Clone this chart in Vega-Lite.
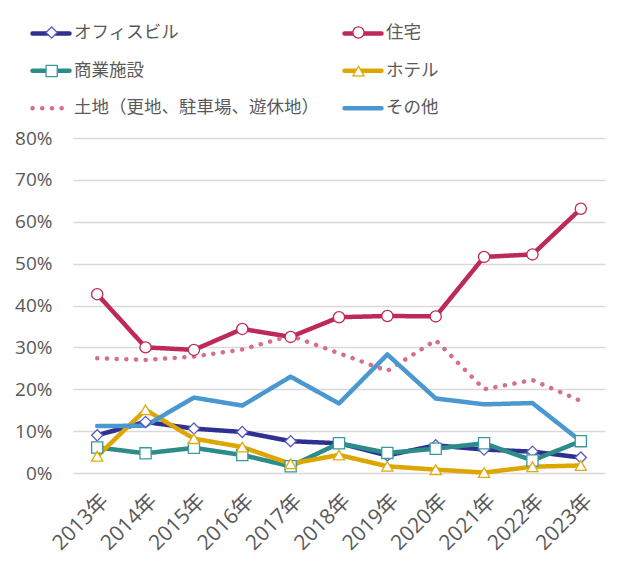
{
  "$schema": "https://vega.github.io/schema/vega-lite/v6.json",
  "width": 532,
  "height": 335,
  "autosize": {"type": "none"},
  "padding": {"left": 73, "top": 138, "right": 29, "bottom": 92},
  "background": "white",
  "config": {
    "view": {"stroke": null},
    "axis": {"labelFont": "Open Sans, Noto Sans CJK JP", "labelColor": "#595959", "labelFontSize": 19, "domain": false, "ticks": false, "title": null}
  },
  "data": {"values": [
    {"year": "2013年", "series": "オフィスビル", "value": 0.090},
    {"year": "2014年", "series": "オフィスビル", "value": 0.122},
    {"year": "2015年", "series": "オフィスビル", "value": 0.106},
    {"year": "2016年", "series": "オフィスビル", "value": 0.098},
    {"year": "2017年", "series": "オフィスビル", "value": 0.076},
    {"year": "2018年", "series": "オフィスビル", "value": 0.071},
    {"year": "2019年", "series": "オフィスビル", "value": 0.042},
    {"year": "2020年", "series": "オフィスビル", "value": 0.066},
    {"year": "2021年", "series": "オフィスビル", "value": 0.056},
    {"year": "2022年", "series": "オフィスビル", "value": 0.051},
    {"year": "2023年", "series": "オフィスビル", "value": 0.037},
    {"year": "2013年", "series": "住宅", "value": 0.427},
    {"year": "2014年", "series": "住宅", "value": 0.300},
    {"year": "2015年", "series": "住宅", "value": 0.294},
    {"year": "2016年", "series": "住宅", "value": 0.344},
    {"year": "2017年", "series": "住宅", "value": 0.325},
    {"year": "2018年", "series": "住宅", "value": 0.372},
    {"year": "2019年", "series": "住宅", "value": 0.375},
    {"year": "2020年", "series": "住宅", "value": 0.374},
    {"year": "2021年", "series": "住宅", "value": 0.516},
    {"year": "2022年", "series": "住宅", "value": 0.522},
    {"year": "2023年", "series": "住宅", "value": 0.631},
    {"year": "2013年", "series": "商業施設", "value": 0.061},
    {"year": "2014年", "series": "商業施設", "value": 0.047},
    {"year": "2015年", "series": "商業施設", "value": 0.060},
    {"year": "2016年", "series": "商業施設", "value": 0.043},
    {"year": "2017年", "series": "商業施設", "value": 0.016},
    {"year": "2018年", "series": "商業施設", "value": 0.071},
    {"year": "2019年", "series": "商業施設", "value": 0.048},
    {"year": "2020年", "series": "商業施設", "value": 0.058},
    {"year": "2021年", "series": "商業施設", "value": 0.071},
    {"year": "2022年", "series": "商業施設", "value": 0.030},
    {"year": "2023年", "series": "商業施設", "value": 0.076},
    {"year": "2013年", "series": "ホテル", "value": 0.040},
    {"year": "2014年", "series": "ホテル", "value": 0.151},
    {"year": "2015年", "series": "ホテル", "value": 0.082},
    {"year": "2016年", "series": "ホテル", "value": 0.062},
    {"year": "2017年", "series": "ホテル", "value": 0.022},
    {"year": "2018年", "series": "ホテル", "value": 0.043},
    {"year": "2019年", "series": "ホテル", "value": 0.016},
    {"year": "2020年", "series": "ホテル", "value": 0.008},
    {"year": "2021年", "series": "ホテル", "value": 0.001},
    {"year": "2022年", "series": "ホテル", "value": 0.015},
    {"year": "2023年", "series": "ホテル", "value": 0.018},
    {"year": "2013年", "series": "土地（更地、駐車場、遊休地）", "value": 0.274},
    {"year": "2014年", "series": "土地（更地、駐車場、遊休地）", "value": 0.270},
    {"year": "2015年", "series": "土地（更地、駐車場、遊休地）", "value": 0.278},
    {"year": "2016年", "series": "土地（更地、駐車場、遊休地）", "value": 0.295},
    {"year": "2017年", "series": "土地（更地、駐車場、遊休地）", "value": 0.328},
    {"year": "2018年", "series": "土地（更地、駐車場、遊休地）", "value": 0.286},
    {"year": "2019年", "series": "土地（更地、駐車場、遊休地）", "value": 0.244},
    {"year": "2020年", "series": "土地（更地、駐車場、遊休地）", "value": 0.317},
    {"year": "2021年", "series": "土地（更地、駐車場、遊休地）", "value": 0.200},
    {"year": "2022年", "series": "土地（更地、駐車場、遊休地）", "value": 0.222},
    {"year": "2023年", "series": "土地（更地、駐車場、遊休地）", "value": 0.172},
    {"year": "2013年", "series": "その他", "value": 0.112},
    {"year": "2014年", "series": "その他", "value": 0.113},
    {"year": "2015年", "series": "その他", "value": 0.180},
    {"year": "2016年", "series": "その他", "value": 0.161},
    {"year": "2017年", "series": "その他", "value": 0.230},
    {"year": "2018年", "series": "その他", "value": 0.166},
    {"year": "2019年", "series": "その他", "value": 0.283},
    {"year": "2020年", "series": "その他", "value": 0.178},
    {"year": "2021年", "series": "その他", "value": 0.164},
    {"year": "2022年", "series": "その他", "value": 0.167},
    {"year": "2023年", "series": "その他", "value": 0.076}
  ]},
  "encoding": {
    "x": {"field": "year", "type": "ordinal", "sort": null, "scale": {"type": "point", "padding": 0.5},
      "axis": {"labelAngle": -45, "labelPadding": 17, "labelFontSize": 21, "grid": false}},
    "y": {"field": "value", "type": "quantitative", "scale": {"domain": [0, 0.8], "nice": false},
      "axis": {"values": [0, 0.1, 0.2, 0.3, 0.4, 0.5, 0.6, 0.7, 0.8], "format": ".0%", "grid": true, "gridColor": "#d9d9d9", "gridWidth": 1.5, "labelPadding": 21}}
  },
  "layer": [
    {
      "mark": {"type": "line", "strokeWidth": 4.5, "strokeCap": "round", "strokeJoin": "round"},
      "encoding": {
        "color": {"field": "series", "type": "nominal", "sort": null,
          "scale": {"range": ["#2e3192", "#be2a58", "#2b8c89", "#dea600", "#d4708a", "#4a98cf"]},
          "legend": {"title": null, "orient": "none", "direction": "horizontal", "legendX": -43, "legendY": -125.6, "columns": 2, "columnPadding": 16, "rowPadding": 7.4,
            "symbolType": "stroke", "symbolSize": 1369, "symbolStrokeWidth": 4.5, "labelOffset": 2,
            "labelFont": "Noto Sans CJK JP", "labelFontSize": 17.5, "labelColor": "#595959", "labelLimit": 400,
            "encode": {"symbols": {"update": {"strokeCap": {"value": "round"}}}}}},
        "strokeDash": {"field": "series", "type": "nominal", "sort": null,
          "scale": {"range": [[1, 0], [1, 0], [1, 0], [1, 0], [0.1, 9.6], [1, 0]]},
          "legend": {"title": null, "orient": "none", "direction": "horizontal", "legendX": -43, "legendY": -125.6}}
      }
    },
    {
      "transform": [{"filter": "datum.series !== 'その他' && datum.series !== '土地（更地、駐車場、遊休地）'"}],
      "mark": {"type": "point", "filled": true, "fill": "white", "strokeWidth": 1.3, "size": 125, "opacity": 1},
      "encoding": {
        "shape": {"field": "series", "type": "nominal",
          "scale": {"domain": ["オフィスビル", "住宅", "商業施設", "ホテル", "土地（更地、駐車場、遊休地）", "その他"],
            "range": ["diamond", "circle", "square", "triangle-up", "M0,0", "M0,0"]},
          "legend": {"title": null, "orient": "none", "direction": "horizontal", "legendX": -30.1, "legendY": -114.6, "columns": 2, "columnPadding": 286.8, "rowPadding": 19.9,
            "symbolSize": 125, "symbolStrokeWidth": 1.3, "symbolFillColor": "white", "labelOffset": 2, "labelExpr": "''",
            "labelFont": "Noto Sans CJK JP", "labelFontSize": 17.5, "labelColor": "#595959", "labelLimit": 400}},
        "stroke": {"field": "series", "type": "nominal",
          "scale": {"domain": ["オフィスビル", "住宅", "商業施設", "ホテル", "土地（更地、駐車場、遊休地）", "その他"],
            "range": ["#5a5ac8", "#be2a58", "#3a9a9a", "#e0aa10", "#d4708a", "#4a98cf"]},
          "legend": {"title": null, "orient": "none", "direction": "horizontal", "legendX": -30.1, "legendY": -114.6, "columns": 2, "columnPadding": 286.8, "rowPadding": 19.9,
            "symbolSize": 125, "symbolStrokeWidth": 1.3, "symbolFillColor": "white", "labelOffset": 2, "labelExpr": "''",
            "labelFont": "Noto Sans CJK JP", "labelFontSize": 17.5, "labelColor": "#595959", "labelLimit": 400}}
      }
    }
  ]
}
